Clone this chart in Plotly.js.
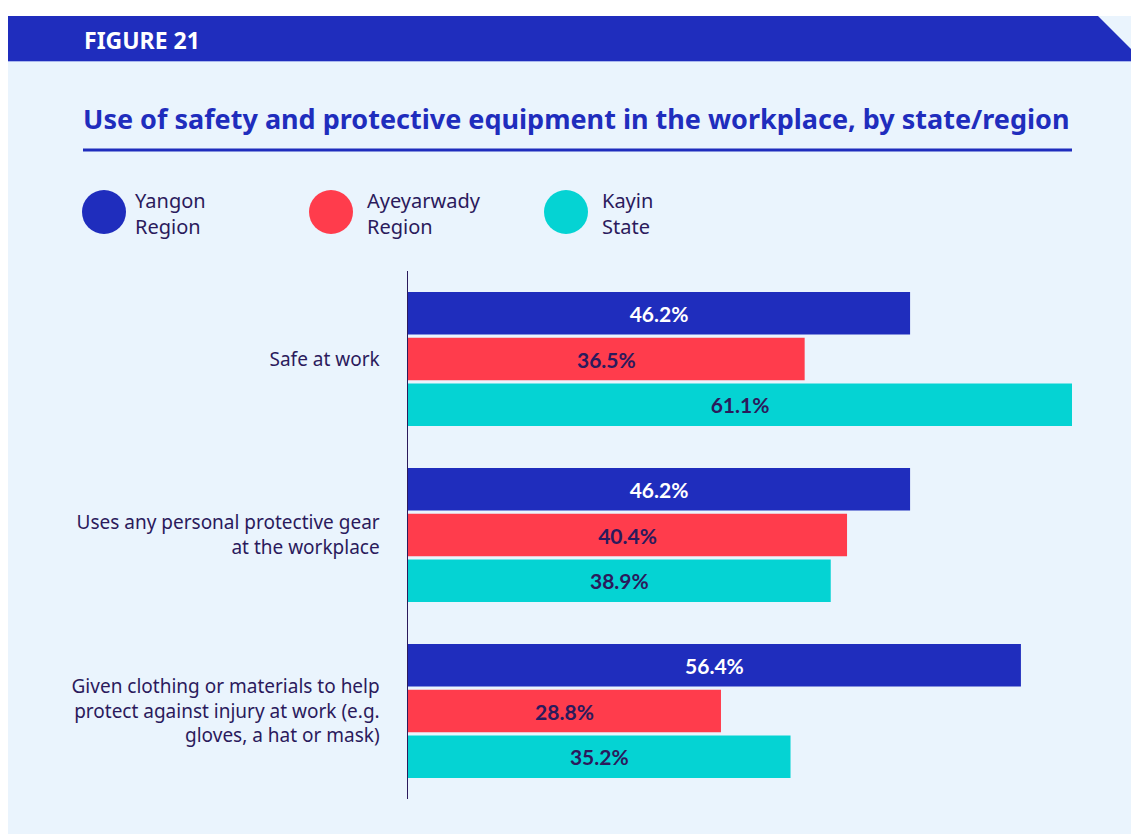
<!DOCTYPE html>
<html>
<head>
<meta charset="utf-8">
<script src="https://cdn.plot.ly/plotly-3.0.1.min.js"></script>
<style>
  html, body { margin: 0; padding: 0; background: #ffffff; }
  #chart { width: 1131px; height: 834px; }
</style>
</head>
<body>
<div id="chart"></div>
<script>
// ---- data ----
var categories = [
  "Safe at work",
  "Uses any personal protective gear<br>at the workplace",
  "Given clothing or materials to help<br>protect against injury at work (e.g.<br>gloves, a hat or mask)"
];
var seriesNames = ["Yangon<br>Region", "Ayeyarwady<br>Region", "Kayin<br>State"];
var yangon = [46.2, 46.2, 56.4];
var ayeyarwady = [36.5, 40.4, 28.8];
var kayin = [61.1, 38.9, 35.2];
var figureLabel = "FIGURE 21";
var chartTitle = "Use of safety and protective equipment in the workplace, by state/region";

// ---- style ----
var W = 1131, H = 834;
var M = {l: 408, r: 59, t: 271, b: 35};
var PW = W - M.l - M.r, PH = H - M.t - M.b;
function px(x) { return (x - M.l) / PW; }
function py(y) { return (H - M.b - y) / PH; }

var BLUE = "#1F2DBD", RED = "#FF3C4C", CYAN = "#05D3D3", DARK = "#2B1A5C", PANEL = "#EAF4FD";
var colors = [BLUE, RED, CYAN];
var textColors = ["#FFFFFF", DARK, DARK];
var seriesValues = [yangon, ayeyarwady, kayin];

var traces = seriesValues.map(function (vals, i) {
  return {
    type: "bar",
    orientation: "h",
    name: seriesNames[i].replace("<br>", " "),
    y: categories,
    x: vals,
    marker: {color: colors[i]},
    text: vals.map(function (v) { return v.toFixed(1) + "%"; }),
    textposition: "inside",
    insidetextanchor: "middle",
    textangle: 0,
    insidetextfont: {family: "Lato, 'Noto Sans', sans-serif", size: 21, color: textColors[i], weight: 700},
    hoverinfo: "x+y",
    cliponaxis: false
  };
});

var shapes = [
  // white margins around panel
  {type: "rect", xref: "paper", yref: "paper", x0: px(0), x1: px(W), y0: py(0), y1: py(16), fillcolor: "#FFFFFF", line: {width: 0}, layer: "below"},
  {type: "rect", xref: "paper", yref: "paper", x0: px(0), x1: px(8), y0: py(0), y1: py(H), fillcolor: "#FFFFFF", line: {width: 0}, layer: "below"},
  // header bar with slanted end
  {type: "path", xref: "paper", yref: "paper",
   path: "M " + px(8) + " " + py(16) + " L " + px(1098) + " " + py(16) + " L " + px(1143) + " " + py(61) + " L " + px(8) + " " + py(61) + " Z",
   fillcolor: BLUE, line: {width: 0}, layer: "below"},
  {type: "line", xref: "paper", yref: "paper", x0: px(8), x1: px(W), y0: py(61.5), y1: py(61.5), line: {color: "#A9B6EE", width: 1}, layer: "below"},
  // title underline
  {type: "line", xref: "paper", yref: "paper", x0: px(83), x1: px(1072), y0: py(150), y1: py(150), line: {color: BLUE, width: 3}},
];
// legend circles
var legendX = [104, 331, 566];
var legendTextX = [133, 365, 600];
legendX.forEach(function (cx, i) {
  shapes.push({type: "circle", xref: "paper", yref: "paper",
    x0: px(cx - 22), x1: px(cx + 22), y0: py(212 + 22), y1: py(212 - 22),
    fillcolor: colors[i], line: {width: 0}});
});

var annotations = [
  {xref: "paper", yref: "paper", x: px(82), y: py(40), xanchor: "left", yanchor: "middle", showarrow: false,
   text: "<b>" + figureLabel + "</b>", font: {family: "'Noto Sans', sans-serif", size: 23, color: "#FFFFFF"}},
  {xref: "paper", yref: "paper", x: px(81), y: py(118), xanchor: "left", yanchor: "middle", showarrow: false,
   text: "<b>" + chartTitle + "</b>", font: {family: "'Noto Sans', sans-serif", size: 27, color: BLUE}}
];
seriesNames.forEach(function (n, i) {
  annotations.push({xref: "paper", yref: "paper", x: px(legendTextX[i]), y: py(213), xanchor: "left", yanchor: "middle",
    align: "left", showarrow: false, text: n, font: {family: "'Noto Sans', sans-serif", size: 20, color: DARK}});
});

var layout = {
  width: W, height: H,
  margin: M,
  paper_bgcolor: PANEL,
  plot_bgcolor: "rgba(0,0,0,0)",
  barmode: "group",
  bargap: 0.22,
  bargroupgap: 0.07,
  showlegend: false,
  xaxis: {range: [0, 61.1], showgrid: false, zeroline: false, showticklabels: false, showline: false, fixedrange: true},
  yaxis: {autorange: "reversed", showgrid: false, zeroline: false, showline: true, linecolor: DARK, linewidth: 1.5,
          ticks: "", ticklabelstandoff: 23,
          tickfont: {family: "'Noto Sans', sans-serif", size: 19, color: DARK}, fixedrange: true},
  shapes: shapes,
  annotations: annotations,
  font: {family: "'Noto Sans', sans-serif", color: DARK}
};

Plotly.newPlot("chart", traces, layout, {displayModeBar: false, staticPlot: true});
</script>
</body>
</html>
